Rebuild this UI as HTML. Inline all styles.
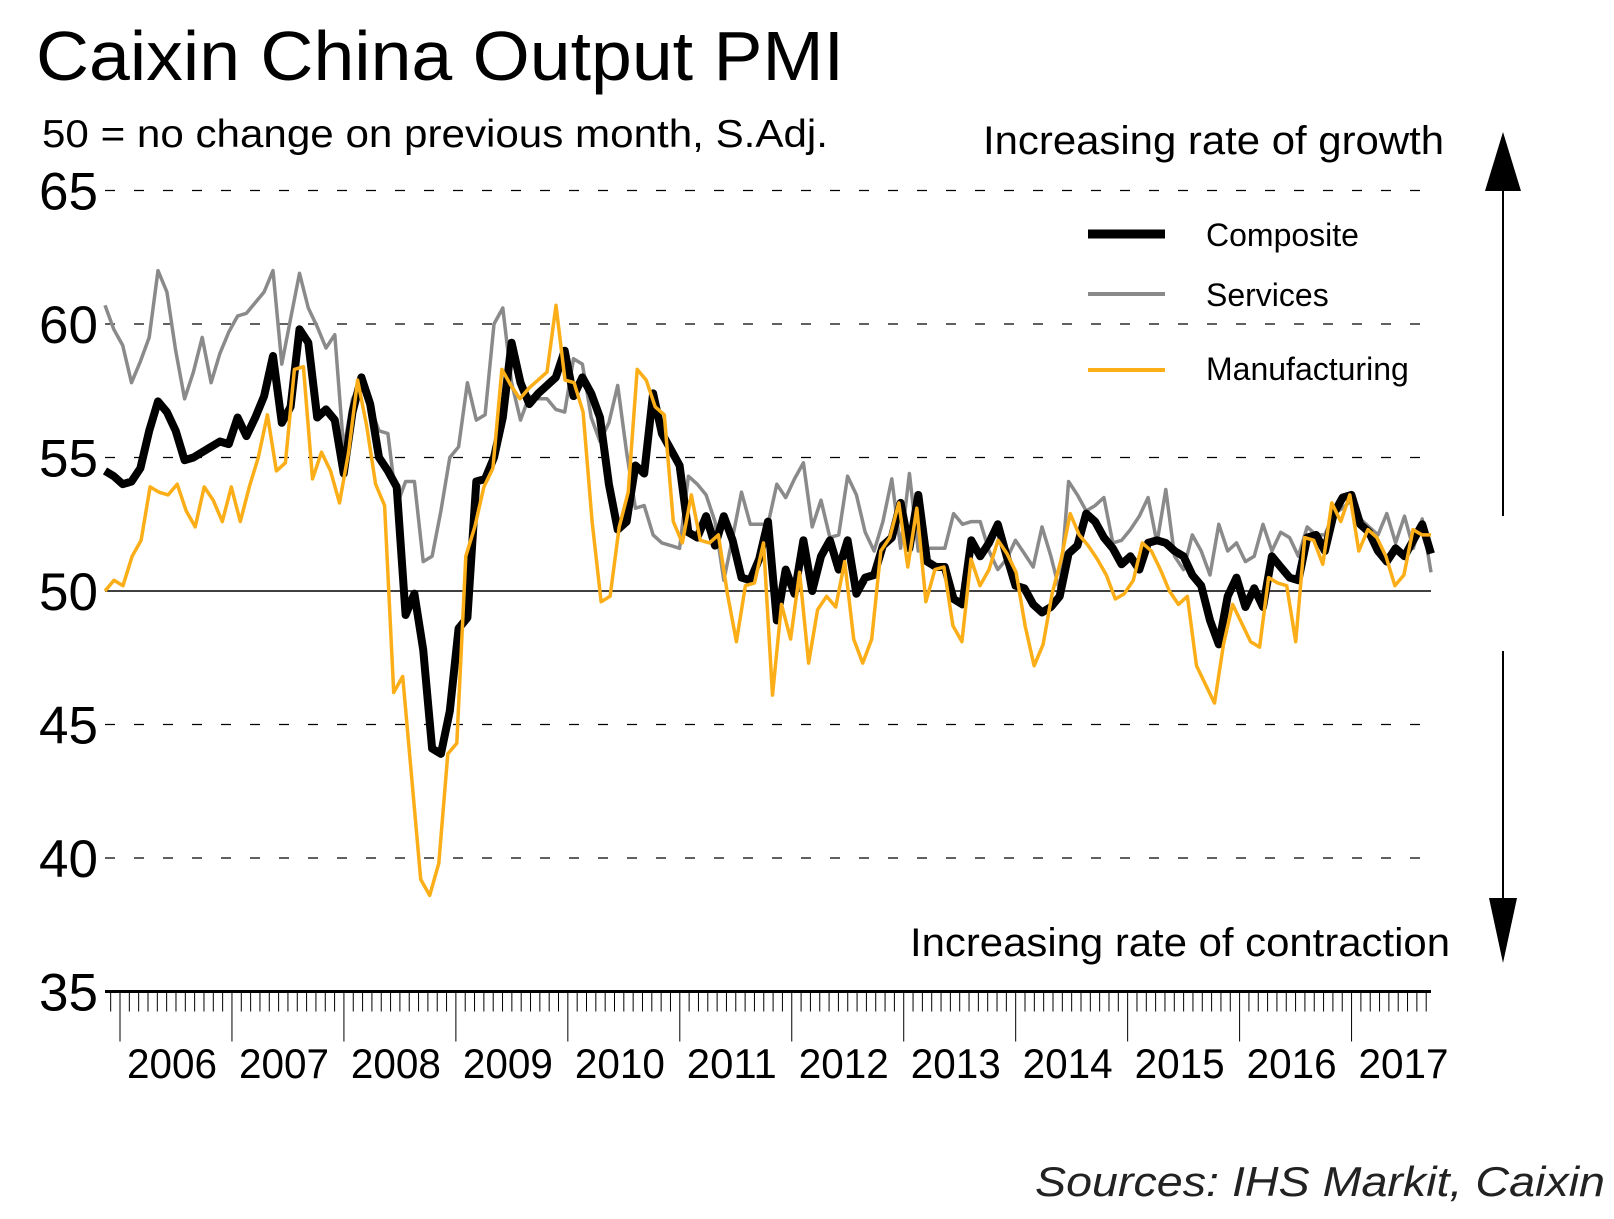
<!DOCTYPE html>
<html><head><meta charset="utf-8"><style>
html,body{margin:0;padding:0;background:#fff;}
svg{display:block;font-family:"Liberation Sans",sans-serif;}
</style></head><body>
<svg id="chart" width="1614" height="1219" viewBox="0 0 1614 1219">
<text x="36" y="80" font-size="70" textLength="808" lengthAdjust="spacingAndGlyphs">Caixin China Output PMI</text>
<text x="42" y="147" font-size="39" textLength="786" lengthAdjust="spacingAndGlyphs">50 = no change on previous month, S.Adj.</text>
<text x="983" y="154" font-size="40" textLength="461" lengthAdjust="spacingAndGlyphs">Increasing rate of growth</text>
<text x="910" y="956" font-size="40" textLength="540" lengthAdjust="spacingAndGlyphs">Increasing rate of contraction</text>
<text x="1035" y="1196" font-size="42" font-style="italic" textLength="570" lengthAdjust="spacingAndGlyphs" fill="#222">Sources: IHS Markit, Caixin</text>
<g id="grid"></g><g id="yl"></g><g id="xa"></g><g id="series"></g>
<g>
<line x1="1088" y1="234" x2="1165" y2="234" stroke="#000" stroke-width="9"/>
<text x="1206" y="246" font-size="32">Composite</text>
<line x1="1088" y1="294" x2="1165" y2="294" stroke="#8a8a8a" stroke-width="4"/>
<text x="1206" y="306" font-size="32">Services</text>
<line x1="1088" y1="370" x2="1165" y2="370" stroke="#fbae17" stroke-width="4"/>
<text x="1206" y="380" font-size="32">Manufacturing</text>
</g>
<g>
<line x1="1503" y1="185" x2="1503" y2="516" stroke="#000" stroke-width="2"/>
<polygon points="1503,132 1485,191 1521,191" fill="#000"/>
<line x1="1503" y1="651" x2="1503" y2="905" stroke="#000" stroke-width="2"/>
<polygon points="1503,963 1489,898 1517,898" fill="#000"/>
</g>
</svg>
<script>
const yTicks=[40,45,55,60,65];
const yLabels=["35","40","45","50","55","60","65"];
const years=["2006","2007","2008","2009","2010","2011","2012","2013","2014","2015","2016","2017"];
const composite=[54.5,54.3,54.0,54.1,54.6,56.0,57.1,56.7,56.0,54.9,55.0,55.2,55.4,55.6,55.5,56.5,55.8,56.5,57.3,58.8,56.3,56.9,59.8,59.3,56.5,56.8,56.4,54.4,56.7,58.0,57.0,55.0,54.5,53.9,49.1,49.9,47.8,44.1,43.9,45.5,48.6,49.0,54.1,54.2,55.0,56.5,59.3,57.8,57.0,57.4,57.7,58.0,59.0,57.3,58.0,57.4,56.5,54.0,52.3,52.6,54.7,54.4,57.4,55.9,55.3,54.7,52.2,52.0,52.8,51.7,52.8,51.9,50.5,50.4,51.2,52.6,48.9,50.8,49.9,51.9,50.0,51.3,51.9,50.8,51.9,49.9,50.5,50.6,51.7,52.0,53.3,51.6,53.6,51.1,50.9,50.9,49.7,49.5,51.9,51.3,51.8,52.5,51.3,50.2,50.1,49.5,49.2,49.4,49.8,51.4,51.7,52.9,52.6,52.0,51.6,51.0,51.3,50.8,51.8,51.9,51.8,51.5,51.3,50.6,50.2,48.9,48.0,49.8,50.5,49.4,50.1,49.4,51.3,50.9,50.5,50.4,52.0,52.1,51.5,52.9,53.5,53.6,52.5,52.2,51.5,51.1,51.6,51.3,51.9,52.5,51.4];
const services=[60.7,59.8,59.2,57.8,58.6,59.5,62.0,61.2,59.0,57.2,58.2,59.5,57.8,58.9,59.7,60.3,60.4,60.8,61.2,62.0,58.5,60.2,61.9,60.6,59.9,59.1,59.6,55.3,57.2,57.8,56.9,56.0,55.9,53.2,54.1,54.1,51.1,51.3,53.0,55.0,55.4,57.8,56.4,56.6,60.0,60.6,57.8,56.4,57.3,57.2,57.2,56.8,56.7,58.7,58.5,56.5,55.6,56.3,57.7,55.2,53.1,53.2,52.1,51.8,51.7,51.6,54.3,54.0,53.6,52.6,50.4,52.0,53.7,52.5,52.5,52.5,54.0,53.5,54.2,54.8,52.4,53.4,52.0,52.1,54.3,53.6,52.2,51.5,52.6,54.2,51.6,54.4,51.5,51.6,51.6,51.6,52.9,52.5,52.6,52.6,51.5,50.8,51.2,51.9,51.4,50.9,52.4,51.3,50.0,54.1,53.6,53.0,53.2,53.5,51.8,51.9,52.3,52.8,53.5,51.8,53.8,51.3,50.8,52.1,51.5,50.6,52.5,51.5,51.8,51.1,51.3,52.5,51.5,52.2,52.0,51.3,52.4,52.1,52.1,52.9,53.1,53.4,52.7,52.4,52.1,52.9,51.8,52.8,51.6,52.7,50.7];
const manufacturing=[50.0,50.4,50.2,51.3,51.9,53.9,53.7,53.6,54.0,53.0,52.4,53.9,53.4,52.6,53.9,52.6,53.9,55.0,56.6,54.5,54.8,58.3,58.4,54.2,55.2,54.5,53.3,55.2,57.9,56.2,54.0,53.2,46.2,46.8,43.0,39.2,38.6,39.8,43.9,44.3,51.3,52.4,53.9,54.6,58.3,57.7,57.2,57.6,57.9,58.2,60.7,57.9,57.8,56.7,52.6,49.6,49.8,52.4,53.7,58.3,57.9,56.9,56.6,52.6,51.8,53.6,51.9,51.8,52.1,49.9,48.1,50.2,50.3,51.8,46.1,49.5,48.2,50.7,47.3,49.3,49.8,49.4,51.1,48.2,47.3,48.2,51.5,52.0,53.3,50.9,53.1,49.6,50.8,50.9,48.7,48.1,51.2,50.2,50.8,51.9,51.4,50.7,48.7,47.2,48.0,49.9,51.2,52.9,52.1,51.7,51.2,50.6,49.7,49.9,50.4,51.8,51.5,50.8,50.0,49.5,49.8,47.2,46.5,45.8,48.0,49.5,48.8,48.1,47.9,50.5,50.3,50.2,48.1,52.0,51.9,51.0,53.3,52.6,53.6,51.5,52.3,52.0,51.3,50.2,50.6,52.3,52.1,52.1];

const NS="http://www.w3.org/2000/svg";
const X0=105,X1=1431,Y50=591,PER=26.7;
function y(v){return Y50-(v-50)*PER;}
function x(i,n){return X0+i*(X1-X0)/(n-1);}
function mk(t,a,p){const e=document.createElementNS(NS,t);for(const k in a)e.setAttribute(k,a[k]);(p||document.getElementById('chart')).appendChild(e);return e;}
const grid=document.getElementById('grid'),yl=document.getElementById('yl'),xa=document.getElementById('xa'),ser=document.getElementById('series');
yTicks.forEach(v=>{const l=mk('line',{x1:X0,x2:1420,y1:y(v),y2:y(v),stroke:'#000','stroke-width':1.3,'stroke-dasharray':'10,19'},grid);

});
const zl=mk('line',{x1:X0,x2:X1,y1:y(50),y2:y(50),stroke:'#000','stroke-width':1.5},grid);


yLabels.forEach(s=>{const t=mk('text',{x:98,y:y(+s)+19,'font-size':53,'text-anchor':'end'},yl);t.textContent=s;

});
const ax=mk('line',{x1:X0,x2:X1,y1:y(35),y2:y(35),stroke:'#000','stroke-width':3},xa);


const MX=9.33,J06=120;
for(let m=-1;m<=140;m++){const xx=J06+m*MX;if(xx<X0||xx>X1)continue;const yr=m>=0&&m%12===0;
mk('line',{x1:xx,x2:xx,y1:y(35),y2:y(35)+(yr?50:20),stroke:'#000','stroke-width':1},xa);}
years.forEach((s,k)=>{const t=mk('text',{x:J06+k*12*MX+7,y:1078,'font-size':42,textLength:90,lengthAdjust:'spacingAndGlyphs'},xa);t.textContent=s;

});
function line(d,c,w,name){const p=mk('polyline',{points:d.map((v,i)=>x(i,d.length).toFixed(1)+','+y(v).toFixed(1)).join(' '),fill:'none',stroke:c,'stroke-width':w,'stroke-linejoin':'round'},ser);

}
line(services,'#8a8a8a',3.5,'services-line');
line(composite,'#000',8,'composite-line');
line(manufacturing,'#fbae17',3.5,'manufacturing-line');
</script>
</body></html>
